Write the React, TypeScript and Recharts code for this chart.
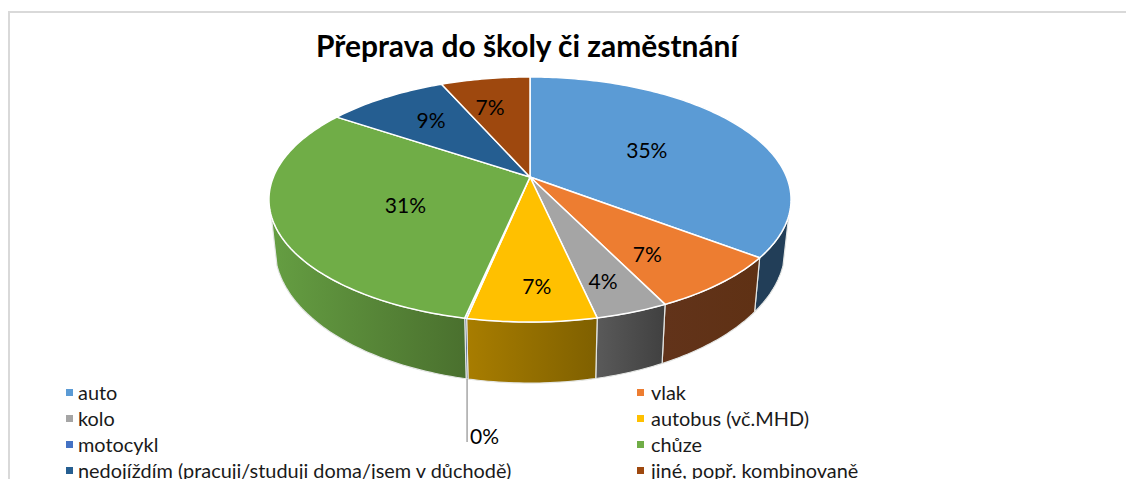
import React from 'react';
import { PieChart, Pie, Legend } from 'recharts';

const categories = ['auto', 'vlak', 'kolo', 'autobus (vč.MHD)', 'motocykl', 'chůze', 'nedojíždím (pracuji/studuji doma/jsem v důchodě)', 'jiné, popř. kombinovaně'];
const shares = [35.4, 7.4, 3.8, 6.7, 0.1, 31.1, 9.0, 6.6];
const topColors = ['#5b9bd5', '#ed7d31', '#a5a5a5', '#ffc000', '#4472c4', '#70ad47', '#255e91', '#9e480e'];
const wallLeftColors = ['#223e58', '#62331a', '#5a5a5a', '#a87d00', '#2a4476', '#659e42', '#16385a', '#5e2b08'];
const wallRightColors = ['#223e58', '#5f3114', '#404040', '#7f6000', '#2a4476', '#4a702e', '#16385a', '#5e2b08'];
const labelReach = [0.53, 0.71, 0.8, 0.79, 1, 0.52, 0.67, 0.68];
const labelSwing = [0, 4.3, 1.4, -1.3, 0, -4.7, 0.8, -3];
const title = 'Přeprava do školy či zaměstnání';

const table = categories.map((name, i) => ({
  name,
  value: shares[i],
  fill: topColors[i],
  wallLeft: wallLeftColors[i],
  wallRight: wallRightColors[i],
  reach: labelReach[i],
  swing: labelSwing[i],
}));

const FONT = 'Lato, Carlito, sans-serif';
const TILT = 0.1837;
const X_SCALE = 256.6;
const Y_SCALE = 118.4;

// Perspective view of a flat disc: clockwise degrees from the top, radius fraction f.
function project(cx: number, cy: number, deg: number, f = 1) {
  const a = (deg * Math.PI) / 180;
  const u = f * Math.sin(a);
  const v = -f * Math.cos(a);
  const d = 1 - TILT * v;
  return { x: cx + (X_SCALE * u) / d, y: cy + (Y_SCALE * v) / d };
}
function lower(cx: number, cy: number, p: { x: number; y: number }) {
  return { x: cx + (p.x - cx) * 0.978, y: p.y + 50 + (p.y - cy - 41) * 0.106 };
}
function sweep(a0: number, a1: number) {
  const out: number[] = [];
  const n = Math.max(1, Math.ceil(Math.abs(a1 - a0)));
  for (let i = 0; i <= n; i++) out.push(a0 + ((a1 - a0) * i) / n);
  return out;
}
const pt = (p: { x: number; y: number }) => `${p.x.toFixed(2)},${p.y.toFixed(2)}`;

function TopSlice(props: any) {
  const { cx, cy, startAngle, endAngle, fill } = props;
  const a0 = 90 - startAngle;
  const a1 = 90 - endAngle;
  const rim = sweep(a0, a1).map((a) => pt(project(cx, cy, a)));
  return <path d={`M${cx},${cy}L${rim.join('L')}Z`} fill={fill} stroke="#ffffff" strokeWidth={1.5} strokeLinejoin="round" />;
}

function WallSlice(props: any) {
  const { cx, cy, startAngle, endAngle, payload, index } = props;
  const a0 = Math.max(90 - startAngle, 108);
  const a1 = Math.min(90 - endAngle, 252);
  if (a1 <= a0) return <g />;
  const upper = sweep(a0, a1).map((a) => project(cx, cy, a));
  const low = upper.map((p) => lower(cx, cy, p)).reverse();
  const xs = upper.concat(low).map((p) => p.x);
  const id = `wall-${index}`;
  return (
    <g>
      <defs>
        <linearGradient id={id} gradientUnits="userSpaceOnUse" x1={Math.max(...xs)} x2={Math.min(...xs)} y1={0} y2={0}>
          <stop offset="0" stopColor={payload.wallRight} />
          <stop offset="1" stopColor={payload.wallLeft} />
        </linearGradient>
      </defs>
      <path d={`M${upper.concat(low).map(pt).join('L')}Z`} fill={`url(#${id})`} stroke="#e4e6e4" strokeWidth={1.2} strokeLinejoin="round" />
    </g>
  );
}

function SliceLabel(props: any) {
  const { cx, cy, midAngle, percent, payload } = props;
  const text = `${Math.round(percent * 100)}%`;
  const deg = 90 - midAngle;
  const style = { fontFamily: FONT, fontSize: 21, fill: '#000000' };
  if (percent < 0.005) {
    const start = lower(cx, cy, project(cx, cy, deg));
    return (
      <g>
        <line x1={start.x} y1={start.y} x2={start.x} y2={442} stroke="#a6a6a6" strokeWidth={1.5} />
        <text x={start.x + 3} y={435} dominantBaseline="central" {...style}>{text}</text>
      </g>
    );
  }
  const p = project(cx, cy, deg + payload.swing, payload.reach);
  return <text x={p.x} y={p.y - 1} textAnchor="middle" dominantBaseline="central" {...style}>{text}</text>;
}

function LegendRows(props: any) {
  const seen = new Set<string>();
  const items = (props.payload || []).filter((it: any) => {
    if (seen.has(it.value)) return false;
    seen.add(it.value);
    return true;
  });
  return (
    <div style={{ position: 'relative', width: 1126, height: 98 }}>
      {items.map((it: any, i: number) => {
        const col = i % 2;
        const row = Math.floor(i / 2);
        return (
          <div key={i} style={{ position: 'absolute', left: col ? 637 : 66, top: row * 26, height: 26, display: 'flex', alignItems: 'center', whiteSpace: 'nowrap', fontFamily: FONT, fontSize: 19.9, color: '#1a1a1a' }}>
            <span style={{ width: 7, height: 7, background: it.color, marginRight: col ? 7 : 5, flex: 'none' }} />
            {it.value}
          </div>
        );
      })}
    </div>
  );
}

export default function App() {
  return (
    <div style={{ position: 'absolute', left: 0, top: 0, width: 1126, height: 479, overflow: 'hidden', background: '#ffffff' }}>
      <div style={{ position: 'absolute', left: 8, top: 11, right: 0, bottom: 0, borderLeft: '2px solid #d9d9d9', borderTop: '2px solid #d9d9d9' }} />
      <PieChart width={1126} height={479} margin={{ top: 0, right: 0, bottom: 0, left: 0 }} style={{ position: 'absolute', left: 0, top: 0 }}>
        <text x={527} y={45} textAnchor="middle" dominantBaseline="central" style={{ fontFamily: FONT, fontSize: 29.9, fontWeight: 700, fill: '#000000' }}>{title}</text>
        <Pie data={table} dataKey="value" nameKey="name" cx={530} cy={177} outerRadius={120} startAngle={90} endAngle={-270} legendType="none" shape={WallSlice} isAnimationActive={false} />
        <Pie data={table} dataKey="value" nameKey="name" cx={530} cy={177} outerRadius={120} startAngle={90} endAngle={-270} shape={TopSlice} label={SliceLabel} labelLine={false} isAnimationActive={false} />
        <Legend content={LegendRows} itemSorter={null} wrapperStyle={{ position: 'absolute', left: 0, top: 379, width: 1126, height: 98 }} />
      </PieChart>
    </div>
  );
}
